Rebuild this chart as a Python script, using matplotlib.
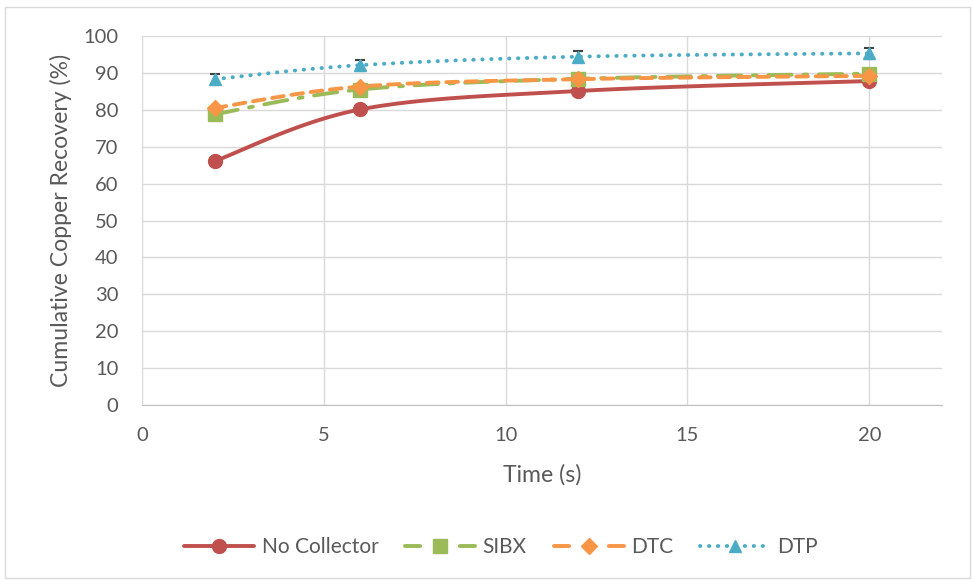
import numpy as np
import matplotlib
matplotlib.use("Agg")
import matplotlib.pyplot as plt
from matplotlib.patches import Rectangle

plt.rcParams['font.family'] = ['Lato', 'DejaVu Sans']

# Flotation time (s) and cumulative copper recovery (%) per collector
time_s = [2, 6, 12, 20]
no_collector = [66.1, 80.1, 85.1, 87.8]
sibx = [78.8, 85.5, 88.4, 89.8]
dtc = [80.5, 86.3, 88.3, 89.2]
dtp = [88.3, 92.1, 94.4, 95.3]
dtp_err = [1.5, 1.5, 1.5, 1.5]

series_names = ["No Collector", "SIBX", "DTC", "DTP"]
x_ticks = [0, 5, 10, 15, 20]
y_ticks = list(range(0, 101, 10))

TEXT = "#595959"
GRID = "#D9D9D9"


def smooth(xs, ys, n=40):
    """Bezier smoothing between consecutive points (spreadsheet-style)."""
    xs = np.asarray(xs, float)
    ys = np.asarray(ys, float)
    pts = np.column_stack([xs, ys])
    out = []
    for i in range(len(pts) - 1):
        p0 = pts[i - 1] if i > 0 else pts[i]
        p1 = pts[i]
        p2 = pts[i + 1]
        p3 = pts[i + 2] if i + 2 < len(pts) else pts[i + 1]
        c1 = p1 + (p2 - p0) / 6.0
        c2 = p2 - (p3 - p1) / 6.0
        t = np.linspace(0, 1, n)[:, None]
        seg = ((1 - t) ** 3) * p1 + 3 * ((1 - t) ** 2) * t * c1 + 3 * (1 - t) * t ** 2 * c2 + t ** 3 * p2
        out.append(seg if i == 0 else seg[1:])
    seg = np.vstack(out)
    return seg[:, 0], seg[:, 1]


fig = plt.figure(figsize=(9.73, 5.80), dpi=100)
fig.patches.append(Rectangle((5 / 973, 2 / 580), 965 / 973, 571 / 580, transform=fig.transFigure,
                             fill=False, edgecolor="#D9D9D9", linewidth=1.0))
ax = fig.add_axes([142 / 973, 1 - 405 / 580, 800 / 973, 369 / 580])

LW = 2.8
styles = [
    dict(color="#C0504D", marker="o", ms=10, dashes=None, leg_dashes=None),
    dict(color="#9BBB59", marker="s", ms=10, dashes=(6, 3, 1, 3), leg_dashes=(3.9, 10.2)),
    dict(color="#F79646", marker="D", ms=8, dashes=(3, 2), leg_dashes=(3.9, 10.2)),
    dict(color="#4BACC6", marker="^", ms=9, dashes=(0.1, 2.2), leg_dashes=(0.1, 2.2)),
]
data = [no_collector, sibx, dtc, dtp]

handles = []
for name, ys, st in zip(series_names, data, styles):
    sx, sy = smooth(time_s, ys)
    line, = ax.plot(sx, sy, color=st["color"], lw=LW, zorder=3,
                    solid_capstyle="round", dash_capstyle="round")
    if st["dashes"] is not None:
        line.set_dashes(st["dashes"])
    if name == "DTP":
        ax.errorbar(time_s, ys, yerr=dtp_err, fmt="none", ecolor="#404040",
                    elinewidth=1.2, capsize=3.5, capthick=1.5, zorder=4)
    ax.plot(time_s, ys, ls="none", marker=st["marker"], ms=st["ms"],
            color=st["color"], mec=st["color"], zorder=5)
    h, = ax.plot([], [], color=st["color"], lw=LW, marker=st["marker"], ms=st["ms"],
                 solid_capstyle="round", dash_capstyle="round")
    if st["leg_dashes"] is not None:
        h.set_dashes(st["leg_dashes"])
    handles.append(h)

ax.set_xlim(0, 22)
ax.set_ylim(0, 100)
ax.set_xticks(x_ticks)
ax.set_yticks(y_ticks)
ax.grid(True, color=GRID, lw=1.0)
ax.set_axisbelow(True)
for side in ["top", "right", "left"]:
    ax.spines[side].set_visible(False)
ax.spines["bottom"].set_color("#BFBFBF")
ax.tick_params(length=0, labelsize=14.5, colors=TEXT)
ax.tick_params(axis="y", pad=17)
ax.tick_params(axis="x", pad=16)
ax.set_xlabel("Time (s)", fontsize=16.6, color=TEXT, labelpad=14)
ax.set_ylabel("Cumulative Copper Recovery (%)", fontsize=16.6, color=TEXT, labelpad=8)

fig.legend(handles, series_names, loc="center", bbox_to_anchor=(501 / 973, 1 - 547 / 580),
           ncol=4, frameon=False, fontsize=15, labelcolor=TEXT, handlelength=3.36,
           columnspacing=1.3, handletextpad=0.34)

fig.savefig("out.png", dpi=100)
